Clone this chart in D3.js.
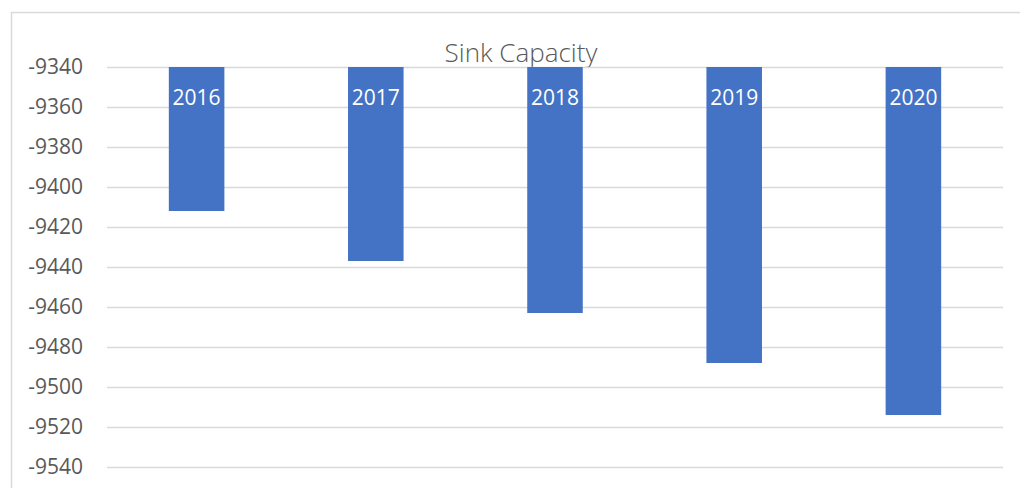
<!DOCTYPE html>
<html lang="en">
<head>
	<meta charset="UTF-8">
	<title>Sink Capacity</title>
	<script src="https://cdn.jsdelivr.net/npm/d3@7"></script>
	<style type="text/css">
		body { margin: 0; background: #fff; }
		.tick text { font-family: "Open Sans", sans-serif; font-size: 21px; fill: #595959; }
		.grid line { stroke: #d9d9d9; stroke-width: 1.5; }
		.bar { fill: #4472c4; }
		.label { font-family: "Open Sans", sans-serif; font-size: 21px; fill: #fff; }
		.title { font-family: "Open Sans", sans-serif; font-weight: 300; font-size: 26px; fill: #595959; }
	</style>
</head>
<body>

<script type="text/javascript">
	var years = ['2016', '2017', '2018', '2019', '2020'];
	var capacity = [-9412, -9437, -9463, -9488, -9514];
	var yTicks = [-9340, -9360, -9380, -9400, -9420, -9440, -9460, -9480, -9500, -9520, -9540];

	window.onload = function () {
		var width = 1020, height = 488;
		var margin = {top: 67, left: 107, bottom: 21, right: 17};
		var w = width - margin.left - margin.right;
		var h = height - margin.top - margin.bottom;

		var svg = d3.select('body').append('svg')
			.attr('width', width)
			.attr('height', height);

		// chart border
		svg.append('rect')
			.attr('x', 11.5).attr('y', 12.5)
			.attr('width', 1030).attr('height', 500)
			.style('fill', 'none')
			.style('stroke', '#d9d9d9')
			.style('stroke-width', 1.5);

		svg.append('text')
			.attr('class', 'title')
			.attr('x', 521)
			.attr('y', 62)
			.attr('text-anchor', 'middle')
			.text('Sink Capacity');

		var g = svg.append('g')
			.attr('transform', 'translate(' + margin.left + ',' + margin.top + ')');

		var x = d3.scaleBand()
			.domain(years)
			.range([0, w])
			.paddingInner(0.69)
			.paddingOuter(0.345);

		var y = d3.scaleLinear()
			.domain([-9340, -9540])
			.range([0, h]);

		// gridlines
		g.append('g')
			.attr('class', 'grid')
			.call(d3.axisLeft(y).tickValues(yTicks).tickSize(-w).tickFormat(''))
			.call(function (s) { s.select('.domain').remove(); });

		// tick labels
		g.append('g')
			.attr('transform', 'translate(-24,0)')
			.call(d3.axisLeft(y).tickValues(yTicks).tickSize(0).tickPadding(0)
				.tickFormat(function (d) { return '-' + Math.abs(d); }))
			.call(function (s) { s.select('.domain').remove(); });

		g.selectAll('.bar')
			.data(capacity)
			.enter().append('rect')
			.attr('class', 'bar')
			.attr('x', function (d, i) { return x(years[i]); })
			.attr('y', y(-9340))
			.attr('width', x.bandwidth())
			.attr('height', function (d) { return y(d) - y(-9340); });

		g.selectAll('.label')
			.data(years)
			.enter().append('text')
			.attr('class', 'label')
			.attr('x', function (d) { return x(d) + x.bandwidth() / 2; })
			.attr('y', 38)
			.attr('text-anchor', 'middle')
			.text(function (d) { return d; });
	};
</script>

</body>
</html>
